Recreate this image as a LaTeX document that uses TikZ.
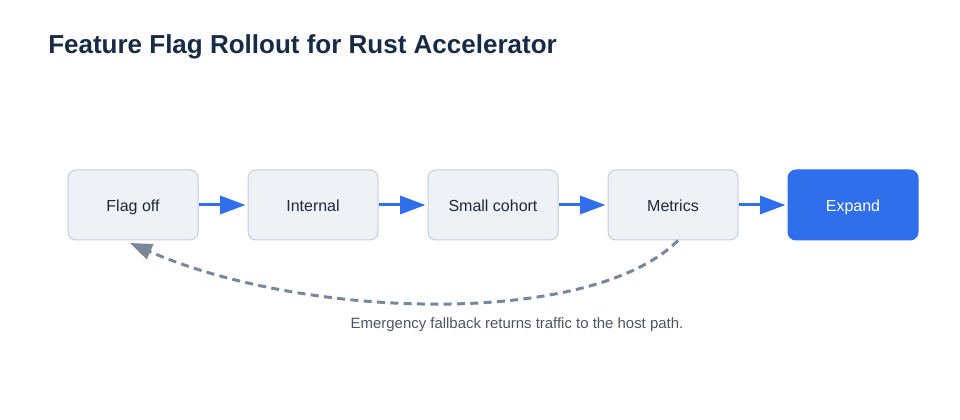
\documentclass[tikz,border=0pt]{standalone}
\usepackage{fontspec}
\setmainfont{Liberation Sans}
\usetikzlibrary{arrows.meta}

\definecolor{boxfill}{HTML}{EEF2F7}
\definecolor{boxline}{HTML}{C5CEDC}
\definecolor{flowblue}{HTML}{2F6FEB}
\definecolor{backgrey}{HTML}{7A879B}
\definecolor{inktext}{HTML}{1F2937}
\definecolor{titleink}{HTML}{172A46}
\definecolor{noteink}{HTML}{4B5563}

\begin{document}
\begin{tikzpicture}[x=0.75pt, y=-0.75pt,
		node_style/.style={rectangle,rounded corners=6pt,draw=boxline,line width=0.75pt,fill=boxfill,
			minimum width=97.5pt,minimum height=52.5pt,inner sep=0pt,text height=11pt,text depth=1.5pt,
			text=inktext,font=\fontsize{12}{14}\selectfont},
		node_style1/.style={node_style,draw=flowblue,fill=flowblue,text=white},
		edge_style/.style={color=flowblue,line width=2.25pt,shorten >=1.5pt,-{Triangle[length=19pt,width=13.5pt]}},
		back_style/.style={color=backgrey,line width=2.25pt,dash pattern=on 6pt off 4pt,-{Triangle[length=16.5pt,width=12pt]}}]

		\useasboundingbox (0,0) rectangle (960,420);

		\node[anchor=base west,inner sep=0pt,text=titleink,font=\fontsize{19.5}{23}\selectfont\bfseries] (title) at (48,54) {Feature Flag Rollout for Rust Accelerator};

		\node[node_style] (n0) at (133,205) {Flag off};
		\node[node_style] (n1) at (313,205) {Internal};
		\node[node_style] (n2) at (493,205) {Small cohort};
		\node[node_style] (n3) at (673,205) {Metrics};
		\node[node_style1] (n4) at (853,205) {Expand};

		\coordinate (back_start) at (678,240.5);
		\coordinate (back_end) at (130,243);

		\node[text=noteink,font=\fontsize{11.2}{13}\selectfont] (note) at (517,325) {Emergency fallback returns traffic to the host path.};

		\draw[edge_style]  (n0) edge (n1);
		\draw[edge_style]  (n1) edge (n2);
		\draw[edge_style]  (n2) edge (n3);
		\draw[edge_style]  (n3) edge (n4);

		\draw[back_style]  (back_start) .. controls (591,327) and (307,320) .. (back_end);

\end{tikzpicture}
\end{document}
